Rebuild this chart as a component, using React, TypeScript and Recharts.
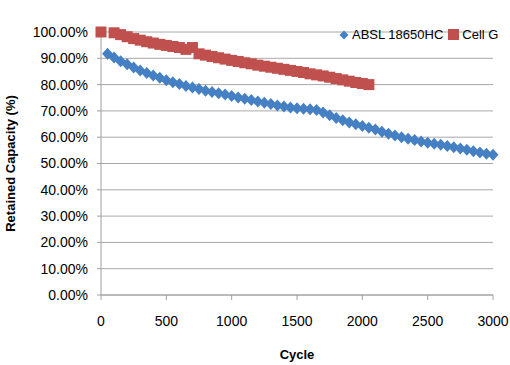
import React from 'react';
import { ScatterChart, Scatter, XAxis, YAxis, CartesianGrid, Legend, Label } from 'recharts';

const abslCycles = [
  50, 100, 150, 200, 250, 300, 350, 400, 450, 500,
  550, 600, 650, 700, 750, 800, 850, 900, 950, 1000,
  1050, 1100, 1150, 1200, 1250, 1300, 1350, 1400, 1450, 1500,
  1550, 1600, 1650, 1700, 1750, 1800, 1850, 1900, 1950, 2000,
  2050, 2100, 2150, 2200, 2250, 2300, 2350, 2400, 2450, 2500,
  2550, 2600, 2650, 2700, 2750, 2800, 2850, 2900, 2950, 3000,
];
const abslCapacity = [
  91.7, 90.3, 88.9, 87.7, 86.5, 85.4, 84.4, 83.5, 82.6, 81.7,
  80.9, 80.2, 79.5, 78.9, 78.3, 77.7, 77.2, 76.7, 76.2, 75.7,
  75.1, 74.6, 74.1, 73.6, 73.1, 72.6, 72.1, 71.7, 71.3, 71.0,
  70.8, 70.6, 70.3, 69.4, 68.3, 67.3, 66.4, 65.6, 64.9, 64.3,
  63.6, 62.9, 62.1, 61.3, 60.6, 60.0, 59.4, 58.9, 58.4, 57.9,
  57.5, 57.1, 56.7, 56.2, 55.7, 55.2, 54.7, 54.2, 53.7, 53.3,
];

const cellGCycles = [
  0, 100, 150, 200, 250, 300, 350, 400, 450, 500,
  550, 600, 650, 700, 750, 800, 850, 900, 950, 1000,
  1050, 1100, 1150, 1200, 1250, 1300, 1350, 1400, 1450, 1500,
  1550, 1600, 1650, 1700, 1750, 1800, 1850, 1900, 1950, 2000,
  2050,
];
const cellGCapacity = [
  100.0, 99.7, 99.0, 98.2, 97.5, 96.9, 96.3, 95.8, 95.3, 94.9,
  94.5, 94.1, 93.4, 94.1, 91.7, 91.2, 90.7, 90.2, 89.7, 89.2,
  88.8, 88.3, 87.9, 87.4, 87.0, 86.6, 86.2, 85.8, 85.4, 85.0,
  84.6, 84.1, 83.7, 83.3, 82.8, 82.3, 81.8, 81.3, 80.8, 80.4,
  80.0,
];

const xTicks = [0, 500, 1000, 1500, 2000, 2500, 3000];
const yTicks = [0, 10, 20, 30, 40, 50, 60, 70, 80, 90, 100];
const seriesNames = ['ABSL 18650HC', 'Cell G'];

const BLUE = '#4680C4';
const RED = '#C0504D';
const FONT = '"Liberation Sans", Arial, sans-serif';

const abslData = abslCycles.map((c, i) => ({ x: c, y: abslCapacity[i] }));
const cellGData = cellGCycles.map((c, i) => ({ x: c, y: cellGCapacity[i] }));

const DiamondShape = (props: any) => {
  const { cx, cy } = props;
  if (cx == null || cy == null) return null;
  return (
    <polygon
      points={`${cx},${cy - 6} ${cx + 5.5},${cy} ${cx},${cy + 6} ${cx - 5.5},${cy}`}
      fill={BLUE}
    />
  );
};

const SquareShape = (props: any) => {
  const { cx, cy } = props;
  if (cx == null || cy == null) return null;
  return <rect x={cx - 5.5} y={cy - 5.5} width={11} height={11} fill={RED} />;
};

const LegendContent = () => (
  <div style={{ display: 'flex', alignItems: 'center', fontFamily: FONT, fontSize: 13, color: '#000', whiteSpace: 'nowrap' }}>
    <svg width={10} height={10} style={{ marginRight: 3 }}>
      <polygon points="5,0.5 9.5,5 5,9.5 0.5,5" fill={BLUE} />
    </svg>
    <span style={{ marginRight: 5 }}>{seriesNames[0]}</span>
    <svg width={11} height={11} style={{ marginRight: 3 }}>
      <rect x={0} y={0} width={11} height={11} fill={RED} />
    </svg>
    <span>{seriesNames[1]}</span>
  </div>
);

export default function App() {
  return (
    <div style={{ position: 'absolute', left: 0, top: 0, background: '#fff' }}>
      <ScatterChart width={510} height={365} margin={{ top: 17, right: 17, bottom: 0, left: 0 }}>
        <CartesianGrid vertical={false} stroke="#a8a8a8" strokeWidth={1} />
        <XAxis
          type="number"
          dataKey="x"
          domain={[0, 3000]}
          ticks={xTicks}
          height={70}
          tickSize={5}
          tickMargin={16}
          axisLine={{ stroke: '#a0a0a0' }}
          tickLine={{ stroke: '#a0a0a0' }}
          tick={{ fill: '#000', fontSize: 14, fontFamily: FONT }}
          interval={0}
        >
          <Label
            value="Cycle"
            position="insideBottom"
            offset={6}
            style={{ fill: '#000', fontSize: 13, fontWeight: 'bold', fontFamily: FONT }}
          />
        </XAxis>
        <YAxis
          type="number"
          dataKey="y"
          domain={[0, 100]}
          ticks={yTicks}
          width={101}
          tickSize={4}
          tickMargin={9}
          axisLine={{ stroke: '#a0a0a0' }}
          tickLine={{ stroke: '#a0a0a0' }}
          tick={{ fill: '#000', fontSize: 14, fontFamily: FONT }}
          tickFormatter={(v: number) => v.toFixed(2) + '%'}
          interval={0}
        >
          <Label
            value="Retained Capacity (%)"
            angle={-90}
            position="insideLeft"
            offset={10}
            style={{ fill: '#000', fontSize: 13, fontWeight: 'bold', fontFamily: FONT, textAnchor: 'middle' }}
          />
        </YAxis>
        <Legend
          verticalAlign="top"
          align="right"
          content={<LegendContent />}
          wrapperStyle={{ position: 'absolute', top: 27, left: 339, width: 170 }}
        />
        <Scatter
          name={seriesNames[0]}
          data={abslData}
          fill={BLUE}
          shape={<DiamondShape />}
          isAnimationActive={false}
        />
        <Scatter
          name={seriesNames[1]}
          data={cellGData}
          fill={RED}
          shape={<SquareShape />}
          isAnimationActive={false}
        />
      </ScatterChart>
    </div>
  );
}
